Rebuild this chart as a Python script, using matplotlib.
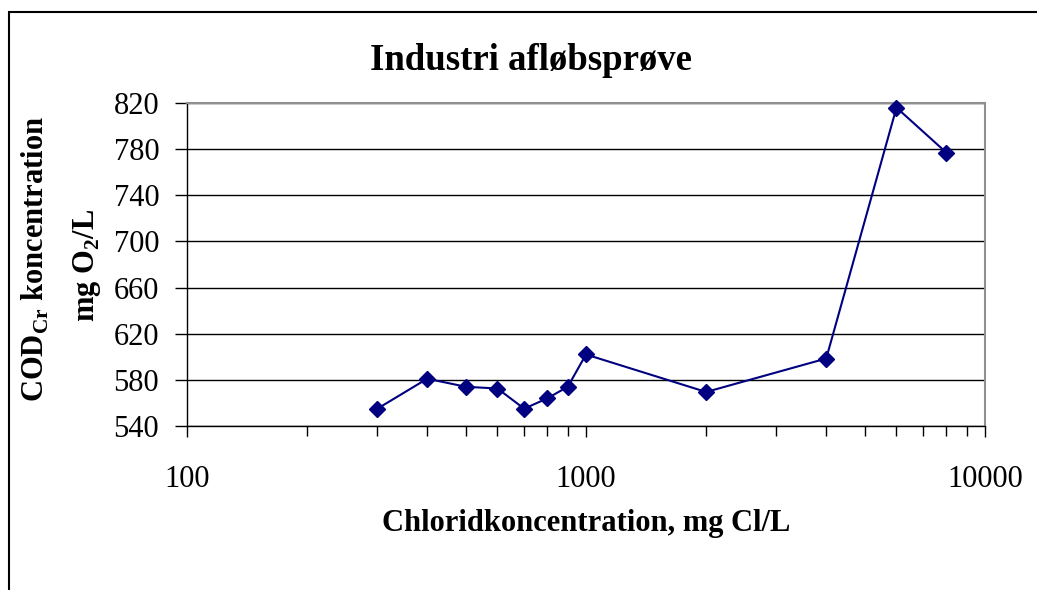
import matplotlib
matplotlib.use('Agg')
import matplotlib.pyplot as plt
from matplotlib.patches import Rectangle
from matplotlib.ticker import FixedLocator, FixedFormatter, LogLocator, NullFormatter

# data
chlorid = [300, 400, 500, 600, 700, 800, 900, 1000, 2000, 4000, 6000, 8000]
cod = [555, 581, 574, 572.5, 555, 564, 574, 602, 569.5, 598.5, 816, 777]
y_ticks = [540, 580, 620, 660, 700, 740, 780, 820]
x_ticks = [100, 1000, 10000]
x_labels = ['100', '1000', '10000']

plt.rcParams['font.family'] = ['Liberation Serif', 'DejaVu Serif']
plt.rcParams['mathtext.fontset'] = 'custom'
plt.rcParams['mathtext.rm'] = 'Liberation Serif'
plt.rcParams['mathtext.bf'] = 'Liberation Serif:bold'

W, H = 1037, 590
fig = plt.figure(figsize=(W / 100, H / 100), dpi=100)

# chart frame (cut by the picture on the right and bottom)
fig.patches.append(Rectangle((9 / W, -0.1), 1.2, (H - 12) / H + 0.1,
                             transform=fig.transFigure, fill=False,
                             edgecolor='black', linewidth=1.5))

ax = fig.add_axes([187 / W, 1 - 426 / H, (985 - 187) / W, (426 - 103) / H])

ax.plot(chlorid, cod, color='#000080', linewidth=1.5, marker='D',
        markersize=8, zorder=3, clip_on=False)

ax.set_xscale('log')
ax.set_xlim(100, 10000)
ax.set_ylim(540, 820)
ax.xaxis.set_major_locator(FixedLocator(x_ticks))
ax.xaxis.set_major_formatter(FixedFormatter(x_labels))
ax.xaxis.set_minor_locator(LogLocator(base=10, subs=range(2, 10)))
ax.xaxis.set_minor_formatter(NullFormatter())
ax.set_yticks(y_ticks)

ax.yaxis.grid(True, color='black', linewidth=1)
ax.set_axisbelow(True)

for s in ['top', 'right']:
    ax.spines[s].set_color('#909090')
    ax.spines[s].set_linewidth(1.5)
for s in ['left', 'bottom']:
    ax.spines[s].set_color('black')
    ax.spines[s].set_linewidth(1)

ax.tick_params(axis='y', direction='out', length=9, width=1, pad=11, labelsize=22)
ax.tick_params(axis='x', which='major', direction='out', length=8, width=1, pad=20, labelsize=22)
ax.tick_params(axis='x', which='minor', direction='out', length=7, width=1)

# title sits left of the plot centre in the original
fig.text(531 / W, 1 - 61 / H, 'Industri afløbsprøve', fontsize=26.5,
         fontweight='bold', ha='center', va='center')
fig.text(586 / W, 1 - 524 / H, 'Chloridkoncentration, mg Cl/L', fontsize=22,
         fontweight='bold', ha='center', va='center')
fig.text(35 / W, 1 - 259 / H, 'COD$_{\\mathbf{Cr}}$ koncentration', fontsize=22,
         fontweight='bold', rotation=90, ha='center', va='center')
fig.text(87 / W, 1 - 265 / H, 'mg O$_{\\mathbf{2}}$/L', fontsize=22,
         fontweight='bold', rotation=90, ha='center', va='center')

fig.savefig('out.png', dpi=100)
